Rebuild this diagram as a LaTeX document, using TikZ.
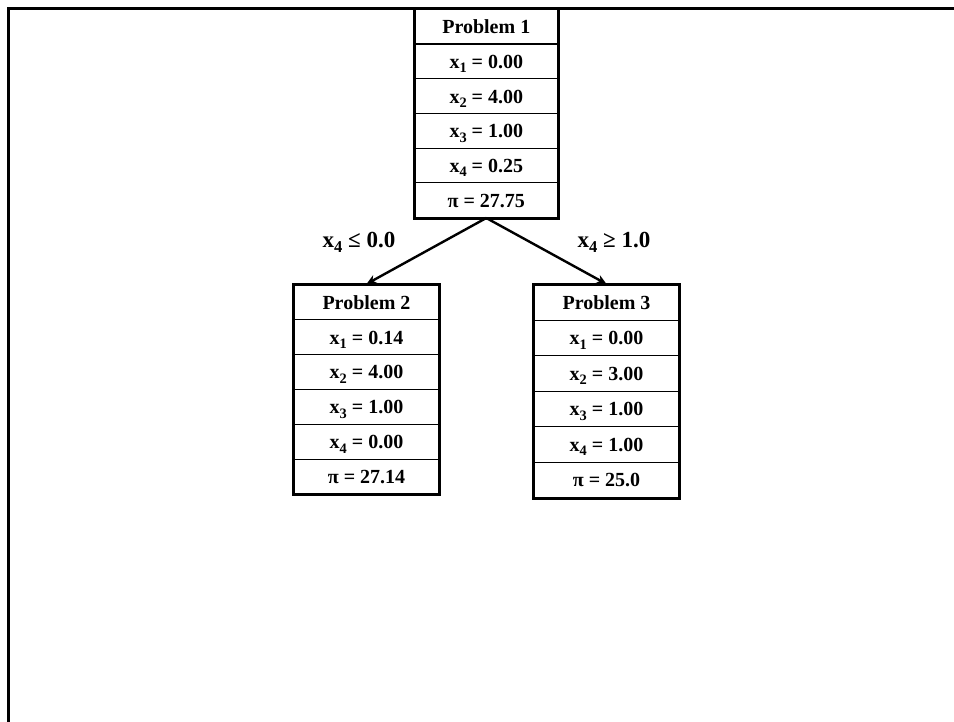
\documentclass[tikz,border=0pt]{standalone}
\usepackage{fontspec}
\setmainfont{Liberation Serif}
\usetikzlibrary{arrows.meta}
% index set below the baseline, in the current size
\newcommand{\idx}[1]{\raisebox{-0.22em}{\scalebox{0.72}{#1}}}
\tikzset{
  cell/.style={draw, line width=1.1pt, minimum height=#1, inner sep=0pt,
    text height=16pt, text depth=1.7pt,
    anchor=north, font=\fontsize{20}{20}\selectfont\bfseries},
  boxframe/.style={draw, line width=3pt},
  branch/.style={line width=2.4pt, -{Stealth[length=10pt,width=9pt]}},
  cond/.style={font=\fontsize{23}{23}\selectfont\bfseries},
}
% \probbox{name}{centre x}{top y}{width}{row height}{cell texts}
\newcommand{\probbox}[6]{%
  \foreach \t [count=\i] in {#6} {
    \pgfmathsetmacro{\rowy}{#3+(\i-1)*#5}
    \node[cell=#5 pt, minimum width=#4 pt] (#1-\i) at (#2,\rowy) {\t};
  }
  \draw[boxframe] (#1-1.north west) rectangle (#1-6.south east);
}
\begin{document}
\begin{tikzpicture}[x=1pt, y=-1pt, line join=miter]
  \useasboundingbox (0,0) rectangle (954,721);
  % page frame
  \draw[line width=3pt] (8.7,725) -- (8.7,8.7) -- (960,8.7);

  \probbox{pa}{486.3}{8.7}{143.5}{34.7}{Problem 1, x\idx{1} = 0.00, x\idx{2} = 4.00, x\idx{3} = 1.00, x\idx{4} = 0.25, π = 27.75}
  \probbox{pb}{366.5}{284}{145}{34.9}{Problem 2, x\idx{1} = 0.14, x\idx{2} = 4.00, x\idx{3} = 1.00, x\idx{4} = 0.00, π = 27.14}
  \probbox{pc}{606.5}{284}{145}{35.5}{Problem 3, x\idx{1} = 0.00, x\idx{2} = 3.00, x\idx{3} = 1.00, x\idx{4} = 1.00, π = 25.0}

  % branching
  \draw[branch] (pa-6.south) -- (pb-1.north);
  \draw[branch] (pa-6.south) -- (pc-1.north);
  \node[cond] (cl) at (359,242) {x\idx{4} ≤ 0.0};
  \node[cond] (cr) at (614,242) {x\idx{4} ≥ 1.0};
\end{tikzpicture}
\end{document}
